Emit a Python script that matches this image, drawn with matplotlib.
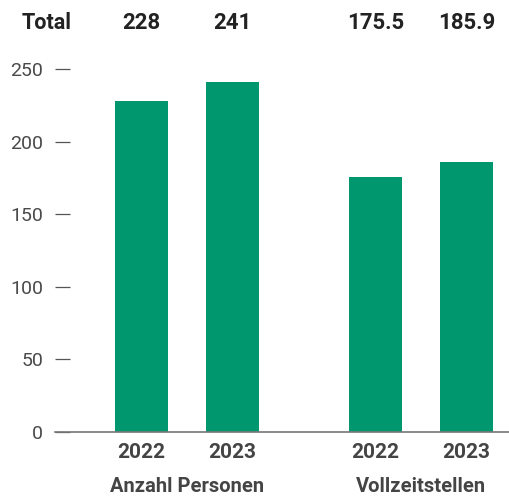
import matplotlib
matplotlib.use("Agg")
import matplotlib.pyplot as plt
import matplotlib.transforms as mtransforms

groups = ["Anzahl Personen", "Vollzeitstellen"]
years = ["2022", "2023", "2022", "2023"]
values = [228, 241, 175.5, 185.9]
totals = ["228", "241", "175.5", "185.9"]
yticks = [0, 50, 100, 150, 200, 250]

green = "#00976F"
plt.rcParams["font.family"] = ["Roboto", "DejaVu Sans"]

W, H = 510, 497
fig = plt.figure(figsize=(W / 100, H / 100), dpi=100)
ax = fig.add_axes([55 / W, 65 / H, (510 - 55) / W, (432 - 69) / H])

pos = [0, 1, 2.571, 3.571]
ax.bar(pos, values, width=0.582, color=green, zorder=2)
ax.set_xlim(-0.95, 4.05)
ax.set_ylim(0, 250)

for s in ["top", "right", "left"]:
    ax.spines[s].set_visible(False)
ax.spines["bottom"].set_color("#777777")
ax.spines["bottom"].set_linewidth(1.2)

ax.set_yticks(yticks)
ax.set_yticklabels([str(t) for t in yticks])
ax.tick_params(axis="y", direction="in", length=11, width=0.9, color="#555555",
               labelsize=14, labelcolor="#4a4a4a", pad=8.6)
ax.set_xticks(pos)
ax.set_xticklabels(years)
ax.tick_params(axis="x", length=0, pad=8, labelsize=15, labelcolor="#444444")
for lab in ax.get_xticklabels():
    lab.set_fontweight("bold")

trans = mtransforms.blended_transform_factory(ax.transData, fig.transFigure)
ytot = 1 - 23 / H
fig.text(47 / W, ytot, "Total", ha="center", va="center", fontsize=15.5,
         fontweight="bold", color="#222222")
for p, t in zip(pos, totals):
    ax.text(p, ytot, t, transform=trans, ha="center", va="center", fontsize=16,
            fontweight="bold", color="#222222")

ygrp = 1 - 487 / H
ax.text((pos[0] + pos[1]) / 2, ygrp, groups[0], transform=trans, ha="center",
        va="center", fontsize=14.5, fontweight="bold", color="#444444")
ax.text((pos[2] + pos[3]) / 2, ygrp, groups[1], transform=trans, ha="center",
        va="center", fontsize=14.5, fontweight="bold", color="#444444")

fig.savefig("out.png", dpi=100)
